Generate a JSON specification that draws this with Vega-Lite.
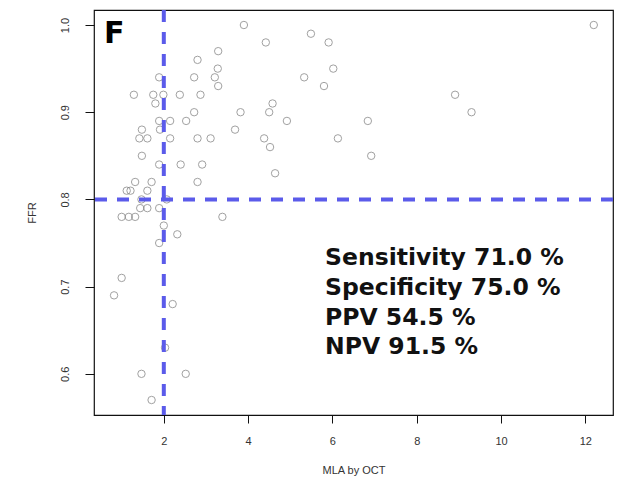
{
  "$schema": "https://vega.github.io/schema/vega-lite/v6.json",
  "autosize": {"type": "none"},
  "padding": {"left": 94, "top": 10, "right": 4, "bottom": 63},
  "width": 519,
  "height": 405,
  "background": "white",
  "config": {
    "view": {"stroke": "#111", "strokeWidth": 1.2},
    "font": "Liberation Sans"
  },
  "datasets": {
    "pts": [
      {"mla": 3.9, "ffr": 1.0}, {"mla": 4.42, "ffr": 0.98}, {"mla": 3.29, "ffr": 0.97}, {"mla": 2.8, "ffr": 0.96},
      {"mla": 3.28, "ffr": 0.95}, {"mla": 2.72, "ffr": 0.94}, {"mla": 3.21, "ffr": 0.94}, {"mla": 3.29, "ffr": 0.93},
      {"mla": 1.89, "ffr": 0.94}, {"mla": 1.29, "ffr": 0.92}, {"mla": 1.75, "ffr": 0.92}, {"mla": 1.99, "ffr": 0.92},
      {"mla": 2.38, "ffr": 0.92}, {"mla": 2.87, "ffr": 0.92}, {"mla": 1.8, "ffr": 0.91}, {"mla": 2.72, "ffr": 0.9},
      {"mla": 3.82, "ffr": 0.9}, {"mla": 4.58, "ffr": 0.91}, {"mla": 4.5, "ffr": 0.9}, {"mla": 4.92, "ffr": 0.89},
      {"mla": 1.89, "ffr": 0.89}, {"mla": 2.15, "ffr": 0.89}, {"mla": 2.53, "ffr": 0.89}, {"mla": 1.48, "ffr": 0.88},
      {"mla": 1.91, "ffr": 0.88}, {"mla": 3.69, "ffr": 0.88}, {"mla": 1.42, "ffr": 0.87}, {"mla": 1.61, "ffr": 0.87},
      {"mla": 2.15, "ffr": 0.87}, {"mla": 2.8, "ffr": 0.87}, {"mla": 3.11, "ffr": 0.87}, {"mla": 4.38, "ffr": 0.87},
      {"mla": 4.52, "ffr": 0.86}, {"mla": 1.48, "ffr": 0.85}, {"mla": 1.89, "ffr": 0.84}, {"mla": 2.4, "ffr": 0.84},
      {"mla": 2.91, "ffr": 0.84}, {"mla": 4.64, "ffr": 0.83}, {"mla": 2.8, "ffr": 0.82}, {"mla": 1.32, "ffr": 0.82},
      {"mla": 1.71, "ffr": 0.82}, {"mla": 1.21, "ffr": 0.81}, {"mla": 1.61, "ffr": 0.81}, {"mla": 1.12, "ffr": 0.81},
      {"mla": 1.47, "ffr": 0.8}, {"mla": 2.07, "ffr": 0.8},
      {"mla": 5.49, "ffr": 0.99}, {"mla": 5.91, "ffr": 0.98}, {"mla": 6.02, "ffr": 0.95}, {"mla": 5.33, "ffr": 0.94},
      {"mla": 5.8, "ffr": 0.93}, {"mla": 8.91, "ffr": 0.92}, {"mla": 9.3, "ffr": 0.9}, {"mla": 6.84, "ffr": 0.89},
      {"mla": 6.13, "ffr": 0.87}, {"mla": 6.92, "ffr": 0.85}, {"mla": 12.2, "ffr": 1.0},
      {"mla": 1.44, "ffr": 0.79}, {"mla": 1.61, "ffr": 0.79}, {"mla": 1.89, "ffr": 0.79}, {"mla": 1.0, "ffr": 0.78},
      {"mla": 1.17, "ffr": 0.78}, {"mla": 1.32, "ffr": 0.78}, {"mla": 3.39, "ffr": 0.78}, {"mla": 2.0, "ffr": 0.77},
      {"mla": 2.32, "ffr": 0.76}, {"mla": 1.89, "ffr": 0.75}, {"mla": 1.0, "ffr": 0.71}, {"mla": 0.82, "ffr": 0.69},
      {"mla": 2.21, "ffr": 0.68}, {"mla": 2.03, "ffr": 0.63}, {"mla": 1.47, "ffr": 0.6}, {"mla": 2.52, "ffr": 0.6},
      {"mla": 1.71, "ffr": 0.57}
    ],
    "stats": [
      {"mla": 5.825, "ffr": 0.7328, "label": "Sensitivity 71.0 %"},
      {"mla": 5.825, "ffr": 0.6984, "label": "Specificity 75.0 %"},
      {"mla": 5.825, "ffr": 0.664, "label": "PPV 54.5 %"},
      {"mla": 5.825, "ffr": 0.6308, "label": "NPV 91.5 %"}
    ],
    "panel": [{"mla": 0.58, "ffr": 0.979, "label": "F"}],
    "cutx": [{"mla": 2}],
    "cuty": [{"ffr": 0.8}]
  },
  "layer": [
    {
      "data": {"name": "pts"},
      "mark": {"type": "point", "shape": "circle", "filled": false, "color": "#7a7a7a", "strokeWidth": 1, "size": 55, "clip": true},
      "encoding": {
        "x": {
          "field": "mla", "type": "quantitative",
          "scale": {"domain": [0.344, 12.656], "nice": false, "zero": false},
          "axis": {
            "title": "MLA by OCT", "values": [2, 4, 6, 8, 10, 12], "grid": false, "domain": false,
            "tickSize": 8, "tickColor": "#111", "labelPadding": 12, "labelBaseline": "top",
            "labelFontSize": 11, "labelColor": "#333", "labelFont": "Liberation Sans",
            "titleFontSize": 11, "titleFontWeight": "normal", "titleColor": "#333",
            "titleY": 55, "titleBaseline": "middle", "labelFlush": false
          }
        },
        "y": {
          "field": "ffr", "type": "quantitative",
          "scale": {"domain": [0.5528, 1.0172], "nice": false, "zero": false},
          "axis": {
            "title": "FFR", "values": [0.6, 0.7, 0.8, 0.9, 1.0], "format": ".1f", "grid": false, "domain": false,
            "tickSize": 9, "tickColor": "#111", "labelAngle": -90, "labelAlign": "center", "labelBaseline": "bottom",
            "labelPadding": 15, "labelFontSize": 11, "labelColor": "#333", "labelFlush": false,
            "titleFontSize": 11, "titleFontWeight": "normal", "titleColor": "#333",
            "titleX": -62, "titleBaseline": "middle", "titleAngle": -90
          }
        }
      }
    },
    {
      "data": {"name": "cutx"},
      "mark": {"type": "rule", "color": "#5b5bea", "strokeWidth": 4, "strokeDash": [12, 10]},
      "encoding": {"x": {"field": "mla", "type": "quantitative"}}
    },
    {
      "data": {"name": "cuty"},
      "mark": {"type": "rule", "color": "#5b5bea", "strokeWidth": 4, "strokeDash": [12, 10]},
      "encoding": {"y": {"field": "ffr", "type": "quantitative"}}
    },
    {
      "data": {"name": "stats"},
      "mark": {"type": "text", "align": "left", "baseline": "middle", "font": "DejaVu Sans", "fontWeight": "bold", "fontSize": 23.5, "color": "#111"},
      "encoding": {
        "x": {"field": "mla", "type": "quantitative"},
        "y": {"field": "ffr", "type": "quantitative"},
        "text": {"field": "label"}
      }
    },
    {
      "data": {"name": "panel"},
      "mark": {"type": "text", "align": "left", "baseline": "alphabetic", "font": "DejaVu Sans", "fontWeight": "bold", "fontSize": 30, "color": "#000"},
      "encoding": {
        "x": {"field": "mla", "type": "quantitative"},
        "y": {"field": "ffr", "type": "quantitative"},
        "text": {"field": "label"}
      }
    }
  ]
}
